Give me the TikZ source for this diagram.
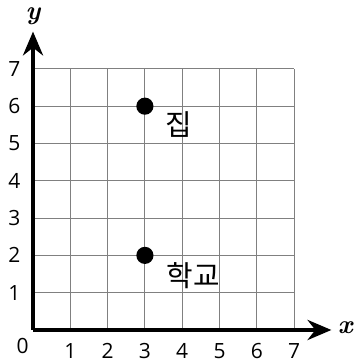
\documentclass[tikz,border=0pt]{standalone}
\usepackage{fontspec}
\setsansfont{Open Sans}
\newfontfamily\korfont{Noto Sans CJK KR}
\usepackage{tikz}
\usetikzlibrary{arrows.meta, positioning}

\tikzset{
    gridline/.style={gray, line width=0.8pt},
    axisline/.style={line width=2.6pt, -{Stealth[length=0.64cm, width=0.54cm]}},
    ticklabel/.style={font=\sffamily\fontsize{16}{18}\selectfont, inner sep=0pt},
    axislabel/.style={font=\bfseries\itshape\fontsize{20}{22}\selectfont, inner sep=0pt},
    place/.style={circle, fill=black, inner sep=0pt, minimum size=0.46cm},
    placename/.style={font=\korfont\fontsize{22}{24}\selectfont, inner sep=0pt}
}

\begin{document}
\begin{tikzpicture}
    \useasboundingbox (-0.885,-0.912) rectangle (8.66,8.847);

    % grid
    \foreach \i in {1,...,7} {
        \draw[gridline] (\i,0) -- (\i,7);
        \draw[gridline] (0,\i) -- (7,\i);
    }

    % axes
    \coordinate (O) at (0,0);
    \coordinate (xend) at (8.0,0);
    \coordinate (yend) at (0,8.0);
    \draw[axisline] (O) -- (xend);
    \draw[axisline] (O) -- (yend);
    \node[axislabel] (xlab) at (8.37,0.05) {x};
    \node[axislabel] (ylab) at (0,8.4) {y};

    % tick labels
    \node[ticklabel] (x0) at (-0.28,-0.42) {0};
    \foreach \i in {1,...,7} {
        \node[ticklabel] (x\i) at (\i,-0.56) {\i};
        \node[ticklabel] (y\i) at (-0.5,\i) {\i};
    }

    % places
    \node[place] (home) at (3,6) {};
    \node[place] (school) at (3,2) {};
    \node[placename] (homename) at (3.9,5.5) {집};
    \node[placename] (schoolname) at (4.3,1.45) {학교};
\end{tikzpicture}
\end{document}
